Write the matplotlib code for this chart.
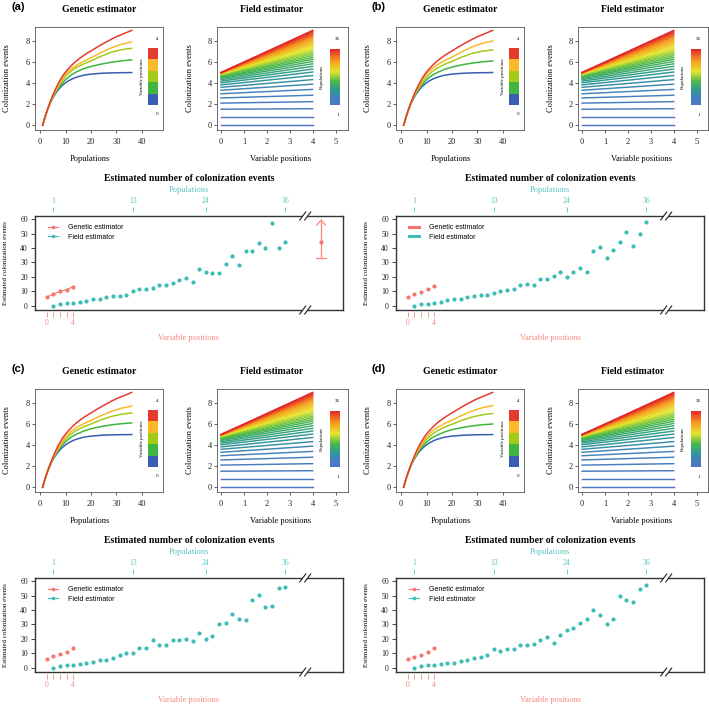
import numpy as np
import matplotlib
matplotlib.use('Agg')
import matplotlib.pyplot as plt
from matplotlib.colors import LinearSegmentedColormap, ListedColormap
from matplotlib.lines import Line2D

SERIF = 'Liberation Serif'
SANS = 'Liberation Sans'

# ---- data: top panels ----
pops = list(range(1, 37))
var_pos = [0, 1, 2, 3, 4]

# genetic curve with 0 variable positions (= field line start) and 4 variable positions (= field line end)
gen_zero = [0, 0.83, 1.52, 2.10, 2.59, 2.99, 3.32, 3.60, 3.83, 4.03,
            4.19, 4.32, 4.44, 4.53, 4.61, 4.68, 4.74, 4.78, 4.82, 4.85,
            4.87, 4.89, 4.91, 4.93, 4.94, 4.95, 4.96, 4.97, 4.97, 4.98,
            4.98, 4.99, 4.99, 4.99, 5.0, 5.0]
gen_four = [0, 0.83, 1.57, 2.24, 2.85, 3.4, 3.9, 4.33, 4.72, 5.05,
            5.33, 5.59, 5.83, 6.05, 6.25, 6.43, 6.6, 6.76, 6.91, 7.05,
            7.2, 7.35, 7.49, 7.63, 7.77, 7.9, 8.03, 8.16, 8.28, 8.4,
            8.5, 8.6, 8.7, 8.8, 8.9, 9.0]

# intermediate genetic curves (1, 2, 3 variable positions), read at these populations
gen_x = [1, 2, 3, 4, 5, 6, 8, 10, 12, 14, 17, 20, 24, 28, 32, 36]
green_a = [0, 0.82, 1.53, 2.14, 2.66, 3.1, 3.8, 4.33, 4.73, 5.03, 5.36, 5.58, 5.8, 5.98, 6.11, 6.2]
yg_a = [0, 0.82, 1.54, 2.17, 2.72, 3.2, 3.98, 4.65, 5.1, 5.45, 5.8, 6.1, 6.55, 6.93, 7.17, 7.3]
orange_a = [0, 0.82, 1.55, 2.2, 2.77, 3.27, 4.12, 4.85, 5.3, 5.65, 6.05, 6.4, 6.9, 7.35, 7.68, 7.9]
green_b = [0, 0.82, 1.53, 2.14, 2.66, 3.1, 3.8, 4.32, 4.7, 4.98, 5.3, 5.52, 5.74, 5.9, 6.02, 6.1]
yg_b = [0, 0.82, 1.54, 2.17, 2.72, 3.2, 3.98, 4.6, 5.05, 5.4, 5.78, 6.06, 6.48, 6.82, 7.03, 7.15]
orange_b = [0, 0.82, 1.55, 2.2, 2.77, 3.28, 4.14, 4.86, 5.33, 5.7, 6.12, 6.47, 6.98, 7.45, 7.78, 8.0]
green_c = [0, 0.82, 1.53, 2.14, 2.66, 3.1, 3.8, 4.33, 4.72, 5.0, 5.32, 5.55, 5.76, 5.92, 6.03, 6.1]
yg_c = [0, 0.82, 1.54, 2.17, 2.72, 3.2, 3.97, 4.58, 5.02, 5.36, 5.73, 6.0, 6.4, 6.72, 6.93, 7.05]
orange_c = [0, 0.82, 1.55, 2.2, 2.76, 3.26, 4.1, 4.78, 5.26, 5.62, 6.02, 6.33, 6.8, 7.2, 7.5, 7.7]
green_d = [0, 0.82, 1.53, 2.13, 2.64, 3.08, 3.77, 4.28, 4.66, 4.93, 5.24, 5.46, 5.67, 5.82, 5.93, 6.0]
yg_d = [0, 0.82, 1.54, 2.17, 2.71, 3.19, 3.95, 4.55, 4.99, 5.33, 5.7, 5.97, 6.36, 6.67, 6.88, 7.0]
orange_d = [0, 0.82, 1.55, 2.2, 2.76, 3.26, 4.1, 4.79, 5.27, 5.64, 6.04, 6.36, 6.84, 7.25, 7.55, 7.75]

# ---- data: bottom panels ----
gen_est_a = [6.0, 7.9, 10.0, 11.1, 13.2]
field_est_a = [0, 0.9, 1.6, 2.1, 2.8, 3.2, 4.4, 4.4, 6.0, 6.5, 7.0, 7.4, 10.0, 11.6, 11.6, 12.0,
               14.6, 14.6, 15.5, 17.8, 19.5, 16.2, 25.3, 23.6, 22.5, 22.9, 28.7, 34.3, 28.0,
               38.0, 37.8, 43.6, 40.3, 57.5, 40.3, 44.0]
gen_est_b = [6.0, 7.9, 9.7, 11.6, 13.7]
field_est_b = [0, 0.9, 1.4, 2.1, 2.5, 3.7, 4.6, 4.9, 5.8, 6.7, 7.4, 7.6, 9.0, 10.2, 10.9, 11.6,
               14.4, 15.3, 14.4, 18.3, 18.3, 20.6, 23.6, 20.2, 23.6, 26.4, 23.2, 38.2, 40.8,
               32.9, 38.7, 44.3, 51.4, 41.5, 50.0, 58.2]
gen_est_c = [5.8, 7.8, 9.5, 10.8, 13.4]
field_est_c = [0, 0.9, 1.6, 2.1, 2.5, 3.5, 4.2, 5.1, 5.3, 6.9, 8.8, 9.9, 9.9, 13.4, 13.8, 18.9,
               15.9, 15.9, 19.4, 19.2, 20.1, 18.2, 24.0, 19.6, 21.9, 30.5, 30.7, 37.2, 33.7,
               33.2, 46.8, 50.8, 42.2, 42.9, 55.2, 56.3]
gen_est_d = [5.8, 7.4, 8.8, 10.8, 13.4]
field_est_d = [0, 0.9, 1.6, 2.1, 2.5, 3.2, 3.5, 4.6, 5.5, 6.5, 7.6, 8.5, 12.9, 11.5, 12.9, 12.7,
               15.5, 15.5, 16.2, 18.9, 21.0, 17.3, 22.8, 26.3, 27.7, 30.9, 33.5, 40.4, 36.5,
               30.2, 33.9, 50.1, 47.1, 45.5, 54.9, 57.2]
# all-population estimate with its interval, panel (a) only
total_est_a = [44.0, 33.1, 59.5]

top_ticks = [1, 13, 24, 36]

# ---- styles ----
gen_colors = ['#3A5EB4', '#3DB53F', '#A3CB15', '#FBB829', '#E53A2E']
field_cmap = LinearSegmentedColormap.from_list('field', [
    (0.0, '#4F74C4'), (0.15, '#4283BB'), (0.27, '#2E9C8E'), (0.42, '#4CB848'),
    (0.6, '#E6E62C'), (0.8, '#F7961D'), (1.0, '#E3262A')])
SALMON = '#F6766D'
SALMON_TXT = '#F8877F'
TEAL = '#3DBDB6'
TEAL_TXT = '#55C6C2'

W, H = 709, 708
fig = plt.figure(figsize=(W / 100, H / 100), dpi=100)


def px_axes(l, t, r, b):
    return fig.add_axes([l / W, 1 - b / H, (r - l) / W, (b - t) / H])


def style_small(ax):
    for s in ax.spines.values():
        s.set_color('#555555')
        s.set_linewidth(0.6)
    ax.tick_params(length=2, width=0.5, pad=1.5, labelsize=6, colors='#222222')
    ax.tick_params(axis='x', pad=3.5)
    for lab in ax.get_xticklabels() + ax.get_yticklabels():
        lab.set_family(SERIF)


def small_texts(ax, title, tx, xlabel, lx, ylabel_x):
    ax.text(tx, 1.162, title, transform=ax.transAxes, ha='center', va='center',
            family=SERIF, weight='bold', fontsize=7)
    ax.text(lx, -0.281, xlabel, transform=ax.transAxes, ha='center', va='center',
            family=SERIF, fontsize=6)
    ax.text(ylabel_x, 0.5, 'Colonization events', transform=ax.transAxes, ha='center',
            va='center', rotation=90, family=SERIF, fontsize=6)


def draw_genetic(ox, oy, mids):
    ax = px_axes(ox + 35, oy + 26.7, ox + 163, oy + 130)
    ax.plot(pops, gen_zero, color=gen_colors[0], lw=1.1)
    for col, ys in zip(gen_colors[1:4], mids):
        ax.plot(gen_x, ys, color=col, lw=1.1)
    ax.plot(pops, gen_four, color=gen_colors[4], lw=1.1)
    ax.set_xlim(-2, 48.3)
    ax.set_ylim(-0.45, 9.35)
    ax.set_xticks([0, 10, 20, 30, 40])
    ax.set_yticks([0, 2, 4, 6, 8])
    style_small(ax)
    small_texts(ax, 'Genetic estimator', 0.504, 'Populations', 0.432, -0.215)
    cax = ax.inset_axes([0.885, 0.242, 0.078, 0.549])
    cax.imshow(np.arange(5).reshape(5, 1), cmap=ListedColormap(gen_colors),
               origin='lower', aspect='auto')
    cax.axis('off')
    ax.text(0.953, 0.881, '4', transform=ax.transAxes, ha='center', va='center',
            family=SERIF, fontsize=3.6)
    ax.text(0.953, 0.155, '0', transform=ax.transAxes, ha='center', va='center',
            family=SERIF, fontsize=3.6)
    ax.text(0.834, 0.513, 'Variable positions', transform=ax.transAxes, ha='center',
            va='center', rotation=90, family=SERIF, fontsize=3.6)


def draw_field(ox, oy):
    ax = px_axes(ox + 216.7, oy + 26.7, ox + 347.5, oy + 130)
    for i in range(len(pops)):
        ax.plot([var_pos[0], var_pos[-1]], [gen_zero[i], gen_four[i]],
                color=field_cmap(i / (len(pops) - 1)), lw=1.05)
    ax.set_xlim(-0.19, 5.52)
    ax.set_ylim(-0.45, 9.35)
    ax.set_xticks([0, 1, 2, 3, 4, 5])
    ax.set_yticks([0, 2, 4, 6, 8])
    style_small(ax)
    small_texts(ax, 'Field estimator', 0.419, 'Variable positions', 0.49, -0.205)
    cax = ax.inset_axes([0.866, 0.242, 0.071, 0.539])
    cax.imshow(np.linspace(0, 1, 200).reshape(-1, 1), cmap=field_cmap,
               origin='lower', aspect='auto')
    cax.axis('off')
    ax.text(0.922, 0.878, '36', transform=ax.transAxes, ha='center', va='center',
            family=SERIF, fontsize=3.6)
    ax.text(0.922, 0.145, '1', transform=ax.transAxes, ha='center', va='center',
            family=SERIF, fontsize=3.6)
    ax.text(0.807, 0.513, 'Populations', transform=ax.transAxes, ha='center',
            va='center', rotation=90, family=SERIF, fontsize=3.6)


def axis_break(ax, x):
    sx, sy = 1 / 6.63, 1 / 1.44  # data units per pixel
    for yv in ax.get_ylim():
        x1, x2 = x - 2.5 * sx, x + 2.5 * sx
        ax.fill([x1 - 3 * sx, x1 + 3 * sx, x2 + 3 * sx, x2 - 3 * sx],
                [yv - 4 * sy, yv + 4 * sy, yv + 4 * sy, yv - 4 * sy],
                color='white', clip_on=False, zorder=5, lw=0)
        for xc in (x1, x2):
            ax.plot([xc - 3 * sx, xc + 3 * sx], [yv - 4 * sy, yv + 4 * sy],
                    color='#222222', lw=0.8, clip_on=False, zorder=6)


def draw_bottom(ox, oy, gen_vals, field_vals, legend_lines_only, connect, total=None):
    ax = px_axes(ox + 35, oy + 216, ox + 343, oy + 310)
    ax.set_xlim(-1.76, 44.7)
    ax.set_ylim(-3.0, 62.3)
    if connect:
        ax.plot(var_pos, gen_vals, color=SALMON, lw=0.8, zorder=3)
    ax.scatter(var_pos, gen_vals, s=9, color=SALMON, linewidths=0, zorder=4)
    ax.scatter(pops, field_vals, s=9, color=TEAL, linewidths=0, zorder=4)
    if total is not None:
        xe = 41.4
        est, lo, hi = total
        ax.plot([xe, xe], [lo, hi], color=SALMON_TXT, lw=0.9)
        ax.plot([xe - 0.75, xe + 0.75], [lo, lo], color=SALMON_TXT, lw=0.9)
        ax.plot([xe - 0.65, xe, xe + 0.65], [hi - 3.5, hi, hi - 3.5], color=SALMON_TXT, lw=0.9)
        ax.scatter([xe], [est], s=9, color=SALMON, linewidths=0, zorder=4)
    for s in ax.spines.values():
        s.set_color('#333333')
        s.set_linewidth(1.0)
    ax.set_xticks([])
    ax.set_yticks([0, 10, 20, 30, 40, 50, 60])
    ax.tick_params(axis='y', length=3, width=0.6, pad=2.2, labelsize=5.5, colors='#222222')
    for lab in ax.get_yticklabels():
        lab.set_family(SERIF)

    top = ax.secondary_xaxis('top')
    top.spines['top'].set_position(('outward', 3))
    top.spines['top'].set_visible(False)
    top.set_xticks(top_ticks)
    top.tick_params(length=3.6, width=0.6, pad=1.0, labelsize=5.5, colors=TEAL_TXT)
    for lab in top.get_xticklabels():
        lab.set_family(SERIF)

    bot = ax.secondary_xaxis('bottom')
    bot.spines['bottom'].set_position(('outward', 1.7))
    bot.spines['bottom'].set_visible(False)
    bot.set_xticks(var_pos)
    bot.set_xticklabels(['0', '', '', '', '4'])
    bot.tick_params(length=3.6, width=0.6, pad=1.2, labelsize=5.5, colors=SALMON_TXT)
    for lab in bot.get_xticklabels():
        lab.set_family(SERIF)

    ax.text(0.5, 1.404, 'Estimated number of colonization events', transform=ax.transAxes,
            ha='center', va='center', family=SERIF, weight='bold', fontsize=7)
    ax.text(0.5, 1.277, 'Populations', transform=ax.transAxes, ha='center', va='center',
            family=SERIF, fontsize=6, color=TEAL_TXT)
    ax.text(0.5, -0.298, 'Variable positions', transform=ax.transAxes, ha='center',
            va='center', family=SERIF, fontsize=6, color=SALMON_TXT)
    ax.text(-0.0964, 0.5, 'Estimated colonization events', transform=ax.transAxes,
            ha='center', va='center', rotation=90, family=SERIF, fontsize=5)

    axis_break(ax, 39.0)

    if legend_lines_only:
        handles = [Line2D([0], [0], color=SALMON, lw=2.2),
                   Line2D([0], [0], color=TEAL, lw=2.2)]
    else:
        handles = [Line2D([0], [0], color=SALMON, lw=0.8, marker='o', ms=2.6, mew=0),
                   Line2D([0], [0], color=TEAL, lw=0.8, marker='o', ms=2.6, mew=0)]
    ax.legend(handles, ['Genetic estimator', 'Field estimator'], loc='upper left',
              bbox_to_anchor=(0.042, 0.91), frameon=False, borderpad=0, borderaxespad=0,
              handlelength=1.5, handletextpad=1.4, labelspacing=0.3,
              prop={'family': SANS, 'size': 5})


panels = [
    ('(a)', 0, 0, [green_a, yg_a, orange_a], gen_est_a, field_est_a, False, True, total_est_a),
    ('(b)', 361, 0, [green_b, yg_b, orange_b], gen_est_b, field_est_b, True, False, None),
    ('(c)', 0, 362, [green_c, yg_c, orange_c], gen_est_c, field_est_c, False, False, None),
    ('(d)', 361, 362, [green_d, yg_d, orange_d], gen_est_d, field_est_d, False, False, None),
]

for label, ox, oy, mids, gvals, fvals, lines_only, connect, total in panels:
    draw_genetic(ox, oy, mids)
    draw_field(ox, oy)
    draw_bottom(ox, oy, gvals, fvals, lines_only, connect, total)
    fig.text((ox + 18) / W, 1 - (oy + 7) / H, label, ha='center', va='center',
             family=SANS, weight='bold', fontsize=8)

fig.savefig('out.png', dpi=100)
